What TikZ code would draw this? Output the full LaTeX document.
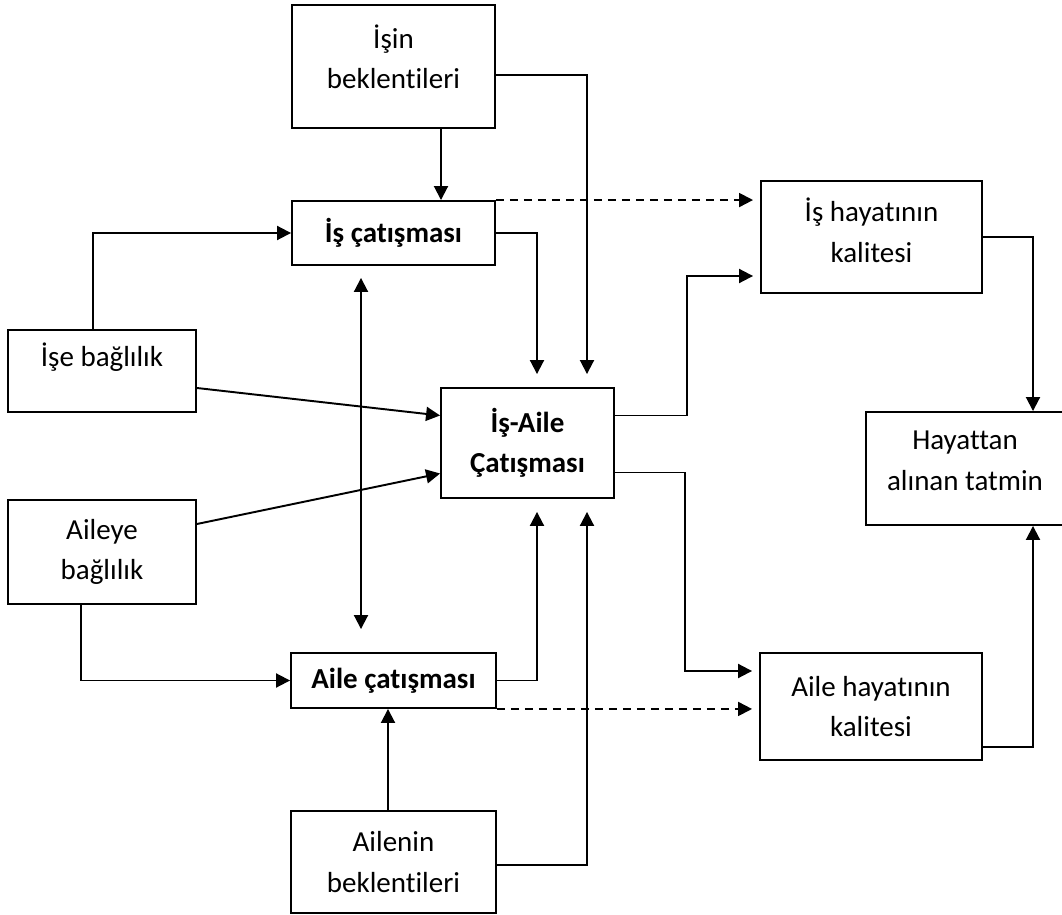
\documentclass[tikz,border=0pt]{standalone}
\usepackage{fontspec}
\setmainfont{Carlito}[Ligatures=NoCommon]
\usetikzlibrary{arrows.meta}

\begin{document}
\begin{tikzpicture}[
    x=0.02cm, y=-0.02cm,
    every node/.style={font=\fontsize{16.5}{23}\selectfont},
    box/.style={rectangle, draw, line width=1.1pt, align=center, inner sep=0pt},
    flow/.style={-{Triangle[length=0.28cm, width=0.28cm]}, line width=1.1pt},
    dflow/.style={flow, dash pattern=on 0.16cm off 0.12cm, shorten >=0.14cm},
    twoway/.style={{Triangle[length=0.28cm, width=0.28cm]}-{Triangle[length=0.28cm, width=0.28cm]}, line width=1.1pt},
    gap/.style={shorten >=0.26cm}
]
\useasboundingbox (0,0) rectangle (1062,915);

% Boxes
\node[box, minimum width=4.06cm, minimum height=2.46cm] (isin)    at (393.5,66.5)  {İşin\\beklentileri\\[-12pt]\mbox{}};
\node[box, minimum width=4.06cm, minimum height=1.28cm] (isc)     at (393.5,233)   {\textbf{İş çatışması}};
\node[box, minimum width=3.76cm, minimum height=1.64cm] (ise)     at (102,371)     {İşe bağlılık\\[-4pt]\mbox{}};
\node[box, minimum width=3.76cm, minimum height=2.08cm] (aileye)  at (102,552)     {Aileye\\bağlılık};
\node[box, minimum width=3.46cm, minimum height=2.2cm]  (isaile)  at (527.5,443)   {\textbf{İş-Aile}\\\textbf{Çatışması}};
\node[box, minimum width=4.42cm, minimum height=2.24cm] (isha)    at (871.5,237)   {İş hayatının\\kalitesi\\[-15pt]\mbox{}};
\node[box, minimum width=3.96cm, minimum height=2.26cm] (hayat)   at (965,468.5)   {Hayattan\\alınan tatmin\\[-14pt]\mbox{}};
\node[box, minimum width=4.1cm,  minimum height=1.1cm]  (ailec)   at (393.5,680.5) {\textbf{Aile çatışması}};
\node[box, minimum width=4.44cm, minimum height=2.14cm] (aileha)  at (871,706.5)   {Aile hayatının\\kalitesi};
\node[box, minimum width=4.1cm,  minimum height=2.04cm] (ailenin) at (393.5,862)   {Ailenin\\beklentileri};

% Into the conflicts
\draw[flow] ([shift={(47.5,0)}]isin.south) -- ([shift={(47.5,0)}]isc.north);
\draw[flow] ([shift={(-9,0)}]ise.north) |- (isc.west);
\draw[flow] ([shift={(-21,0)}]aileye.south) |- (ailec.west);
\draw[flow] ([shift={(-5.5,0)}]ailenin.north) -- ([shift={(-5.5,0)}]ailec.south);
\draw[twoway, shorten <=0.24cm, shorten >=0.46cm] ([shift={(-32.5,0)}]isc.south) -- ([shift={(-32.5,0)}]ailec.north);

% Into work-family conflict
\draw[flow, gap] ([shift={(0,8.5)}]isin.east) -| ([shift={(59.5,0)}]isaile.north);
\draw[flow, gap] (isc.east) -| ([shift={(9.5,0)}]isaile.north);
\draw[flow] ([shift={(0,17)}]ise.east) -- ([shift={(0,-27.5)}]isaile.west);
\draw[flow] ([shift={(0,-28)}]aileye.east) -- ([shift={(0,30.5)}]isaile.west);
\draw[flow, gap] (ailec.east) -| ([shift={(9.5,0)}]isaile.south);
\draw[flow, gap] ([shift={(0,3)}]ailenin.east) -| ([shift={(59.5,0)}]isaile.south);

% Quality of life
\draw[dflow] (isc.north east) -- (isc.north east -| isha.west);
\draw[dflow] (ailec.south east) -- (ailec.south east -| aileha.west);
\draw[flow, shorten >=0.14cm] ([shift={(0,-27.5)}]isaile.east) -- ++(72,0) |- ([shift={(0,39)}]isha.west);
\draw[flow, shorten >=0.14cm] ([shift={(0,29.5)}]isaile.east) -- ++(70,0) |- ([shift={(0,-35.5)}]aileha.west);

% Life satisfaction
\draw[flow] (isha.east) -| ([shift={(68,0)}]hayat.north);
\draw[flow] ([shift={(0,40.5)}]aileha.east) -| ([shift={(68,0)}]hayat.south);
\end{tikzpicture}
\end{document}
